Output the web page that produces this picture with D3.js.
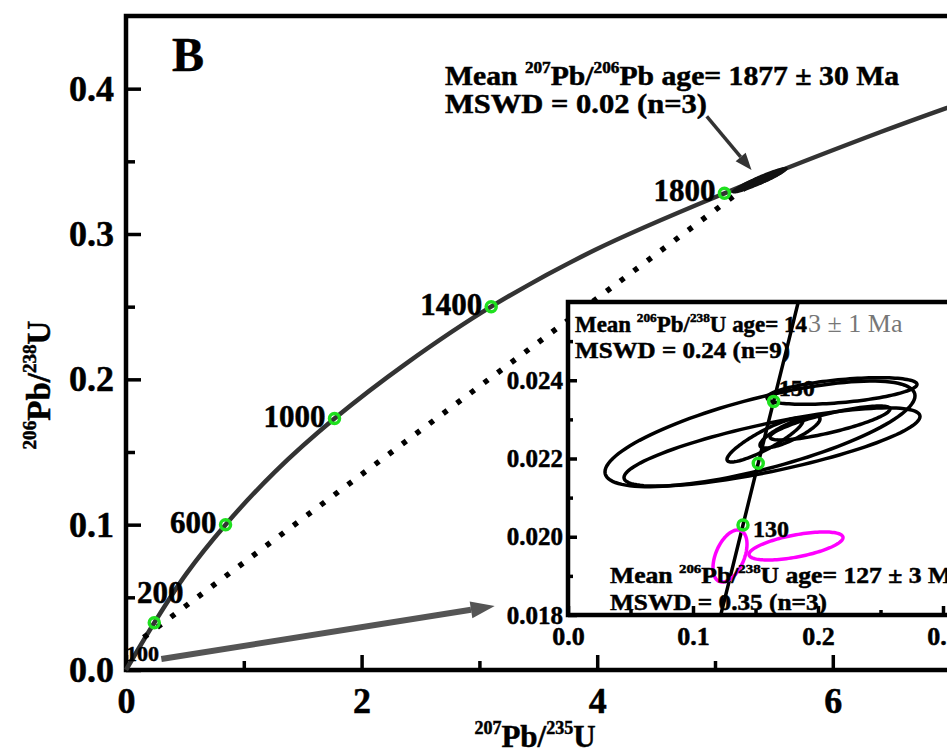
<!DOCTYPE html>
<html>
<head>
<meta charset="utf-8">
<script src="https://cdn.jsdelivr.net/npm/d3@7"></script>
<style>
  body { margin: 0; background: #fff; }
  text { font-family: "Liberation Serif", "Times New Roman", serif; font-weight: bold; fill: #000; stroke: #000; stroke-width: 0.5px; }
  .axis path { display: none; }
  .axis line { stroke: #000; stroke-width: 3.5; }
</style>
</head>
<body>
<div id="chart"></div>
<script>
// concordia (main panel)
const concordiaAge = [0, 200, 400, 600, 800, 1000, 1200, 1400, 1600, 1800, 2000, 2100];
const concordiaX = [0, 0.24, 0.51, 0.845, 1.26, 1.77, 2.38, 3.10, 3.98, 5.08, 6.40, 7.15];
const concordiaY = [0, 0.0325, 0.066, 0.100, 0.136, 0.173, 0.211, 0.250, 0.289, 0.328, 0.370, 0.392];
const markedAges = [200, 600, 1000, 1400, 1800];

// discordia (dotted), lower and upper intercept
const discordiaX = [0.15, 5.34];
const discordiaY = [0.0224, 0.337];

// old zircon ellipses near 1877 Ma : [x, sx, y, sy, rho]
const oldGrains = [
  [5.38, 0.23, 0.337, 0.0085, 0.95],
  [5.35, 0.19, 0.336, 0.0070, 0.95],
  [5.45, 0.15, 0.339, 0.0060, 0.94]
];

// annotation arrows [x1, y1, x2, y2] in data units
const meanArrow = [4.93, 0.381, 5.31, 0.344];
const insetArrow = [0.30, 0.0076, 3.13, 0.044];

// main ticks
const xMajor = [0, 2, 4, 6];
const xMinor = [1, 3, 5, 7];
const yMajor = [0, 0.1, 0.2, 0.3, 0.4];
const yMinor = [0.05, 0.15, 0.25, 0.35];

// inset concordia
const insetAge = [110, 120, 130, 140, 150, 160, 170];
const insetX = [0.1155, 0.1278, 0.140, 0.1522, 0.1645, 0.1768, 0.189];
const insetY = [0.01714, 0.01872, 0.0203, 0.02188, 0.02346, 0.02504, 0.02662];
const insetMarked = [130, 140, 150];
const insetLabelled = [130, 150];

// young zircon ellipses : [x, sx, y, sy, rho]
const blackGrains = [
  [0.1536, 0.124, 0.02263, 0.00135, 0.72],
  [0.1632, 0.1184, 0.022294, 0.00100, 0.78],
  [0.2192, 0.060, 0.023725, 0.000340, 0.50],
  [0.1576, 0.0304, 0.022473, 0.000562, 0.88],
  [0.1776, 0.024, 0.022677, 0.000409, 0.82],
  [0.2096, 0.048, 0.022907, 0.000435, 0.82]
];
const magentaGrains = [
  [0.1824, 0.0376, 0.019764, 0.000358, 0.60],
  [0.1296, 0.0136, 0.019508, 0.000665, 0.45]
];

// inset ticks
const xInMajor = [0, 0.1, 0.2, 0.3];
const xInMinor = [0.05, 0.15, 0.25];
const yInMajor = [0.018, 0.020, 0.022, 0.024];
const yInMinor = [0.019, 0.021, 0.023, 0.025];

const W = 947, H = 754;
const svg = d3.select("#chart").append("svg")
  .attr("width", W).attr("height", H);

const x = d3.scaleLinear().domain([0, 7]).range([126, 950.6]);
const y = d3.scaleLinear().domain([0, 0.45]).range([670, 16]);

const xIn = d3.scaleLinear().domain([0, 0.32]).range([568, 968]);
const yIn = d3.scaleLinear().domain([0.018, 0.026]).range([615, 302]);

// text with superscripts
function richText(g, px, py, parts, size, opts = {}) {
  const t = g.append("text")
    .attr("x", px).attr("y", py)
    .style("font-size", size + "px")
    .attr("text-anchor", opts.anchor || "start");
  if (opts.transform) t.attr("transform", opts.transform);
  if (opts.length) t.attr("textLength", opts.length).attr("lengthAdjust", "spacingAndGlyphs");
  let up = false;
  parts.forEach(p => {
    const sup = Array.isArray(p);
    const s = t.append("tspan").text(sup ? p[0] : p);
    if (sup) {
      s.style("font-size", (size * 0.58) + "px");
      if (!up) s.attr("dy", -size * 0.42);
      up = true;
    } else if (up) {
      s.attr("dy", size * 0.42);
      up = false;
    }
  });
  return t;
}

function ellipsePath(d, sx, sy) {
  const [cx, ex, cy, ey, rho] = d;
  const pts = d3.range(0, 2 * Math.PI, Math.PI / 60).map(th => [
    sx(cx + ex * Math.cos(th)),
    sy(cy + ey * (rho * Math.cos(th) + Math.sqrt(1 - rho * rho) * Math.sin(th)))
  ]);
  return d3.line().curve(d3.curveLinearClosed)(pts);
}

function arrow(g, a, sx, sy, color, width, headLen, headW) {
  const x1 = sx(a[0]), y1 = sy(a[1]), x2 = sx(a[2]), y2 = sy(a[3]);
  const ang = Math.atan2(y2 - y1, x2 - x1);
  const bx = x2 - headLen * Math.cos(ang), by = y2 - headLen * Math.sin(ang);
  g.append("line")
    .attr("x1", x1).attr("y1", y1).attr("x2", bx).attr("y2", by)
    .attr("stroke", color).attr("stroke-width", width);
  const nx = -Math.sin(ang) * headW / 2, ny = Math.cos(ang) * headW / 2;
  g.append("path")
    .attr("d", `M${x2},${y2}L${bx + nx},${by + ny}L${bx - nx},${by - ny}Z`)
    .attr("fill", color);
}

const g = svg.append("g");

// axes (ticks inward)
g.append("g").attr("class", "axis").attr("transform", "translate(0,670)")
  .call(d3.axisBottom(x).tickValues(xMajor).tickSize(-15).tickFormat(d3.format("d")))
  .call(a => a.selectAll("text").attr("y", 43).attr("dy", 0)
    .style("font-size", "36px").style("font-family", "Liberation Serif").style("font-weight", "bold"));
g.append("g").attr("class", "axis").attr("transform", "translate(0,670)")
  .call(d3.axisBottom(x).tickValues(xMinor).tickSize(-9).tickFormat(""));
g.append("g").attr("class", "axis").attr("transform", "translate(126,0)")
  .call(d3.axisLeft(y).tickValues(yMajor).tickSize(-15).tickFormat(d3.format(".1f")))
  .call(a => a.selectAll("text").attr("x", -12)
    .style("font-size", "36px").style("font-family", "Liberation Serif").style("font-weight", "bold"));
g.append("g").attr("class", "axis").attr("transform", "translate(126,0)")
  .call(d3.axisLeft(y).tickValues(yMinor).tickSize(-9).tickFormat(""));

// frame
g.append("path")
  .attr("d", `M${x(7)},${y(0.45)}H${x(0)}V${y(0)}H${x(7)}`)
  .attr("fill", "none").attr("stroke", "#000").attr("stroke-width", 4.5);

// axis titles
richText(g, 535, 747, [["207"], "Pb/", ["235"], "U"], 31, { anchor: "middle" });
richText(g, 0, 0, [["206"], "Pb/", ["238"], "U"], 33,
  { anchor: "middle", transform: "translate(50,385) rotate(-90)" });

g.append("text").attr("x", 172).attr("y", 71).style("font-size", "48px").text("B");

// concordia
const concPts = concordiaAge.map((a, i) => [concordiaX[i], concordiaY[i]]);
g.append("path")
  .datum(concPts)
  .attr("d", d3.line().x(d => x(d[0])).y(d => y(d[1])).curve(d3.curveCatmullRom))
  .attr("fill", "none").attr("stroke", "#333").attr("stroke-width", 4.5);

// discordia, dotted
g.append("line")
  .attr("x1", x(discordiaX[0])).attr("y1", y(discordiaY[0]))
  .attr("x2", x(discordiaX[1])).attr("y2", y(discordiaY[1]))
  .attr("stroke", "#000").attr("stroke-width", 5.5).attr("stroke-dasharray", "5 12");

// old grains
g.selectAll(".old").data(oldGrains).enter().append("path")
  .attr("d", d => ellipsePath(d, x, y))
  .attr("fill", "#111").attr("stroke", "#111").attr("stroke-width", 2);

// age markers
const marked = markedAges.map(a => ({ age: a, x: concordiaX[concordiaAge.indexOf(a)], y: concordiaY[concordiaAge.indexOf(a)] }));
g.selectAll(".mk").data(marked).enter().append("circle")
  .attr("cx", d => x(d.x)).attr("cy", d => y(d.y)).attr("r", 5)
  .attr("fill", "none").attr("stroke", "#1fe01f").attr("stroke-width", 3.5);
g.selectAll(".ml").data(marked).enter().append("text")
  .attr("x", d => d.age === 200 ? x(d.x) + 6 : x(d.x) - 9)
  .attr("y", d => d.age === 200 ? y(d.y) - 20 : y(d.y) + 8)
  .attr("text-anchor", d => d.age === 200 ? "middle" : "end")
  .style("font-size", "31px")
  .text(d => d.age);
g.append("text").attr("x", 126).attr("y", 661).style("font-size", "22px").text("100");

// mean age text (main)
richText(g, 445, 85, ["Mean ", ["207"], "Pb/", ["206"], "Pb age= 1877 ± 30 Ma"], 28, { length: 454 });
richText(g, 445, 113, ["MSWD = 0.02 (n=3)"], 28, { length: 262 });
arrow(g, meanArrow, x, y, "#333", 3.5, 17, 13);

// inset
const ins = svg.append("g");
svg.append("clipPath").attr("id", "insclip").append("rect")
  .attr("x", xIn(0)).attr("y", yIn(0.026)).attr("width", xIn(0.32) - xIn(0)).attr("height", yIn(0.018) - yIn(0.026));
ins.append("rect")
  .attr("x", xIn(0)).attr("y", yIn(0.026)).attr("width", xIn(0.32) - xIn(0)).attr("height", yIn(0.018) - yIn(0.026))
  .attr("fill", "#fff");

ins.append("g").attr("class", "axis").attr("transform", `translate(0,${yIn(0.018)})`)
  .call(d3.axisBottom(xIn).tickValues(xInMajor).tickSize(-9).tickFormat(d3.format(".1f")))
  .call(a => a.selectAll("text").attr("y", 30).attr("dy", 0)
    .style("font-size", "26px").style("font-family", "Liberation Serif").style("font-weight", "bold"));
ins.append("g").attr("class", "axis").attr("transform", `translate(0,${yIn(0.018)})`)
  .call(d3.axisBottom(xIn).tickValues(xInMinor).tickSize(-5).tickFormat(""));
ins.append("g").attr("class", "axis").attr("transform", `translate(${xIn(0)},0)`)
  .call(d3.axisLeft(yIn).tickValues(yInMajor).tickSize(-9).tickFormat(d3.format(".3f")))
  .call(a => a.selectAll("text").attr("x", -5)
    .style("font-size", "25px").style("font-family", "Liberation Serif").style("font-weight", "bold"));
ins.append("g").attr("class", "axis").attr("transform", `translate(${xIn(0)},0)`)
  .call(d3.axisLeft(yIn).tickValues(yInMinor).tickSize(-5).tickFormat(""));

const inner = ins.append("g").attr("clip-path", "url(#insclip)");
inner.append("path")
  .datum(insetAge.map((a, i) => [insetX[i], insetY[i]]))
  .attr("d", d3.line().x(d => xIn(d[0])).y(d => yIn(d[1])))
  .attr("fill", "none").attr("stroke", "#000").attr("stroke-width", 3.5);
inner.selectAll(".bg").data(blackGrains).enter().append("path")
  .attr("d", d => ellipsePath(d, xIn, yIn))
  .attr("fill", "none").attr("stroke", "#000").attr("stroke-width", 3.5);
inner.selectAll(".mg").data(magentaGrains).enter().append("path")
  .attr("d", d => ellipsePath(d, xIn, yIn))
  .attr("fill", "none").attr("stroke", "#ff00ff").attr("stroke-width", 3.5);

const inMarked = insetMarked.map(a => ({ age: a, x: insetX[insetAge.indexOf(a)], y: insetY[insetAge.indexOf(a)] }));
inner.selectAll(".imk").data(inMarked).enter().append("circle")
  .attr("cx", d => xIn(d.x)).attr("cy", d => yIn(d.y)).attr("r", 5)
  .attr("fill", "none").attr("stroke", "#1fe01f").attr("stroke-width", 3.5);
inner.selectAll(".iml").data(inMarked.filter(d => insetLabelled.includes(d.age))).enter().append("text")
  .attr("x", d => xIn(d.x) + (d.age === 130 ? 10 : 5))
  .attr("y", d => yIn(d.y) + (d.age === 130 ? 12 : -5))
  .style("font-size", "24px")
  .text(d => d.age);

// inset frame
ins.append("path")
  .attr("d", `M${xIn(0.32)},${yIn(0.026)}H${xIn(0)}V${yIn(0.018)}H${xIn(0.32)}`)
  .attr("fill", "none").attr("stroke", "#000").attr("stroke-width", 4.5);

// inset texts
richText(ins, 575, 332, ["Mean ", ["206"], "Pb/", ["238"], "U age= 14"], 23, { length: 232 });
ins.append("text").attr("x", 808).attr("y", 332)
  .style("font-size", "26px").style("font-weight", "normal").style("fill", "#777").style("stroke", "none")
  .text("3 ± 1 Ma");
richText(ins, 575, 358, ["MSWD = 0.24 (n=9)"], 23, { length: 215 });
richText(ins, 610, 583, ["Mean ", ["206"], "Pb/", ["238"], "U age= 127 ± 3 Ma"], 23, { length: 355 });
richText(ins, 610, 610, ["MSWD = 0.35 (n=3)"], 23, { length: 217 });

// arrow pointing to the inset
arrow(svg, insetArrow, x, y, "#555", 6, 24, 17);
</script>
</body>
</html>
